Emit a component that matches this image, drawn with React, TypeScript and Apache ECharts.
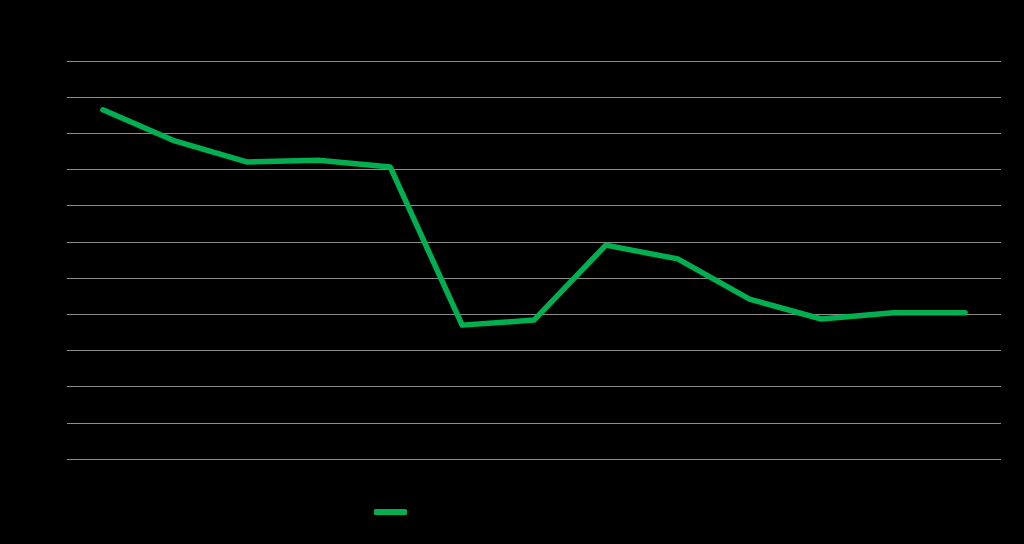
import React, { useEffect, useRef } from "react";
import * as echarts from "echarts";

const categories = ["1", "2", "3", "4", "5", "6", "7", "8", "9", "10", "11", "12", "13"];
const seriesName = "Series 1";
const values = [9.65, 8.79, 8.21, 8.26, 8.07, 3.7, 3.84, 5.91, 5.53, 4.42, 3.87, 4.04, 4.04];

export default function App() {
  const ref = useRef<HTMLDivElement>(null);
  useEffect(() => {
    document.body.style.margin = "0";
    document.body.style.background = "#000";
    const chart = echarts.init(ref.current!, null, { renderer: "svg" });
    chart.setOption({
      animation: false,
      backgroundColor: "#000000",
      grid: { left: 67, right: 23, top: 61, bottom: 85 },
      legend: {
        data: [{ name: seriesName, icon: "roundRect" }],
        left: 369,
        top: 501,
        itemWidth: 33,
        itemHeight: 6,
        textStyle: { color: "#000000", fontFamily: "Liberation Sans", fontSize: 12 },
      },
      xAxis: {
        type: "category",
        data: categories,
        boundaryGap: true,
        axisLine: { show: false },
        axisTick: { show: false },
        axisLabel: { color: "#000000", fontFamily: "Liberation Sans" },
      },
      yAxis: {
        type: "value",
        min: 0,
        max: 11,
        interval: 1,
        axisLine: { show: false },
        axisTick: { show: false },
        axisLabel: { color: "#000000", fontFamily: "Liberation Sans" },
        splitLine: { lineStyle: { color: "#8c8c8c", width: 1 } },
      },
      series: [
        {
          name: seriesName,
          type: "line",
          data: values,
          symbol: "none",
          lineStyle: { color: "#00b050", width: 5.5, cap: "round", join: "round" },
          itemStyle: { color: "#00b050" },
        },
      ],
    });
    return () => chart.dispose();
  }, []);
  return <div ref={ref} style={{ width: 1024, height: 544 }} />;
}
